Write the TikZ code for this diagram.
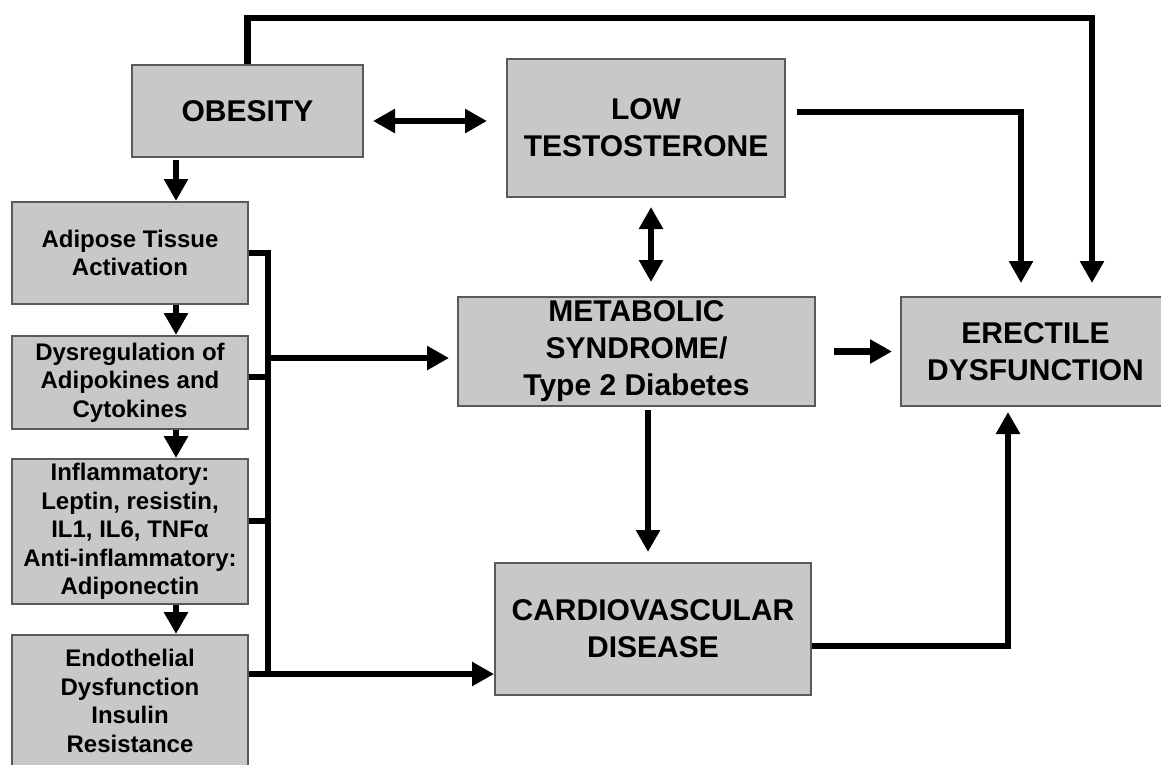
\documentclass[tikz,border=0pt]{standalone}
\usepackage{fontspec}
\setmainfont{Liberation Sans}
\usetikzlibrary{arrows.meta}
\definecolor{boxfill}{RGB}{200,200,200}
\definecolor{boxline}{RGB}{90,90,90}
\begin{document}
\begin{tikzpicture}[x=1pt,y=-1pt,
 box/.style={draw=boxline, line width=2pt, fill=boxfill, align=center, inner sep=0pt, text=black},
 big/.style={box, font=\fontsize{30}{37}\selectfont\bfseries},
 small/.style={box, font=\fontsize{24}{28.5}\selectfont\bfseries},
 conn/.style={line width=6.5pt, line join=miter, draw=black},
 arr/.style={conn, -{Triangle[length=22pt,width=23pt]}},
 darr/.style={conn, {Triangle[length=22pt,width=23pt]}-{Triangle[length=22pt,width=23pt]}}]
\useasboundingbox (0,0) rectangle (1161,764);
\fill[white] (0,0) rectangle (1161,764);
\clip (0,0) rectangle (1161,764);

\node[big, minimum width=231pt, minimum height=92pt] (obesity) at (247.5,111) {OBESITY};
\node[big, minimum width=278pt, minimum height=138pt] (lowt) at (646,128) {LOW\\TESTOSTERONE};
\node[big, minimum width=357pt, minimum height=109pt] (met) at (636.5,351.5) {METABOLIC\\SYNDROME/\\Type 2 Diabetes};
\node[big, minimum width=269pt, minimum height=109pt] (ed) at (1035.5,351.5) {ERECTILE\\DYSFUNCTION};
\node[big, minimum width=316pt, minimum height=132pt] (cvd) at (653,629) {CARDIOVASCULAR\\DISEASE};
\node[small, minimum width=236pt, minimum height=102pt] (adipose) at (130,253) {Adipose Tissue\\Activation};
\node[small, minimum width=236pt, minimum height=93pt] (dysreg) at (130,382.5) {Dysregulation of\\Adipokines and\\Cytokines};
\node[small, minimum width=236pt, minimum height=145pt] (inflam) at (130,531.5) {Inflammatory:\\Leptin, resistin,\\IL1, IL6, TNFα\\Anti-inflammatory:\\Adiponectin};
\node[small, minimum width=236pt, minimum height=132pt] (endo) at (130,701) {Endothelial\\Dysfunction\\Insulin\\Resistance};

% coordinates for connector routing
\coordinate (topR) at (1092,18);
\coordinate (lr) at (1021,112);
\coordinate (yOL) at (0,121);
\coordinate (vx) at (651,0);
\coordinate (mx) at (648,0);
\coordinate (cr) at (1008,646);
\coordinate (lx) at (176,0);
\coordinate (bTop) at (268,253);
\coordinate (bBot) at (268,674);
\coordinate (yD) at (0,377);
\coordinate (yI) at (0,521);
\coordinate (yM) at (0,358);

% top loop obesity -> ED
\draw[arr, shorten >=13pt] (obesity.north) |- (topR) -- (topR |- ed.north);
% low T -> ED
\draw[arr, shorten <=11pt, shorten >=13pt] (lowt.east |- lr) -- (lr) -- (lr |- ed.north);
% obesity <-> low T
\draw[darr, shorten <=9pt, shorten >=19pt] (obesity.east |- yOL) -- (lowt.west |- yOL);
% low T <-> metabolic
\draw[darr, shorten <=9pt, shorten >=14pt] (vx |- lowt.south) -- (vx |- met.north);
% metabolic -> ED
\draw[arr, shorten <=18pt, shorten >=8pt] (met.east) -- (ed.west);
% metabolic -> CVD
\draw[arr, shorten <=3pt, shorten >=10pt] (mx |- met.south) -- (mx |- cvd.north);
% CVD -> ED
\draw[arr, shorten >=5pt] (cvd.east |- cr) -- (cr) -- (cr |- ed.south);

% left column chain
\draw[arr, shorten <=2pt] (lx |- obesity.south) -- (lx |- adipose.north);
\draw[arr] (lx |- adipose.south) -- (lx |- dysreg.north);
\draw[arr] (lx |- dysreg.south) -- (lx |- inflam.north);
\draw[arr] (lx |- inflam.south) -- (lx |- endo.north);

% bracket
\draw[conn] (adipose.east) -- (bTop) -- (bBot);
\draw[conn] (dysreg.east |- yD) -- (bTop |- yD);
\draw[conn] (inflam.east |- yI) -- (bTop |- yI);
\draw[arr, shorten >=8pt] (bTop |- yM) -- (met.west |- yM);
\draw[arr] (endo.east |- bBot) -- (cvd.west |- bBot);
\end{tikzpicture}
\end{document}
